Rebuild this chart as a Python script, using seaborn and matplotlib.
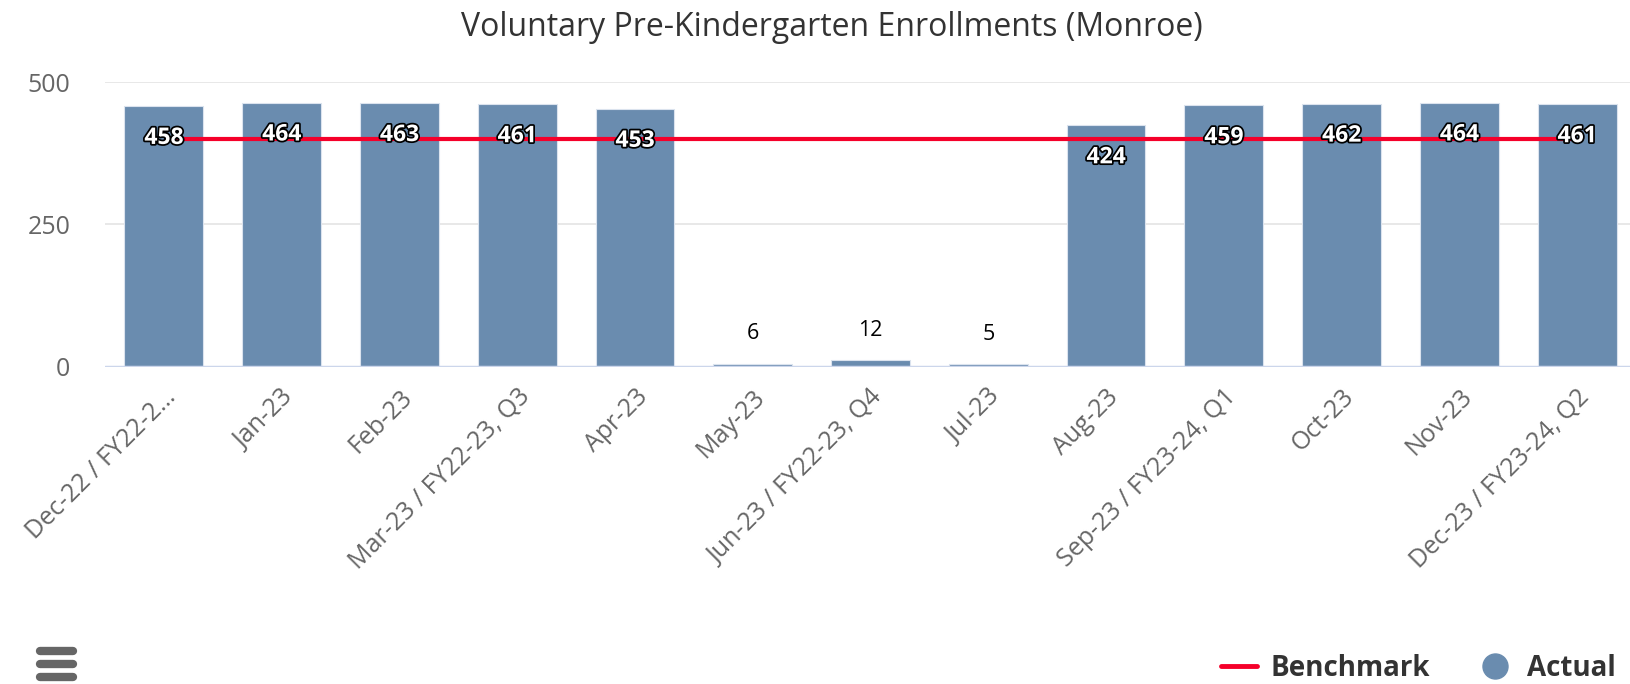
import numpy as np
import pandas as pd
import matplotlib
matplotlib.use("Agg")
import matplotlib.pyplot as plt
import matplotlib.patheffects as pe
from matplotlib.lines import Line2D
import seaborn as sns

# dane
miesiace = ['Dec-22 / FY22-2…', 'Jan-23', 'Feb-23', 'Mar-23 / FY22-23, Q3', 'Apr-23',
            'May-23', 'Jun-23 / FY22-23, Q4', 'Jul-23', 'Aug-23', 'Sep-23 / FY23-24, Q1',
            'Oct-23', 'Nov-23', 'Dec-23 / FY23-24, Q2']
actual = [458, 464, 463, 461, 453, 6, 12, 5, 424, 459, 462, 464, 461]
benchmark = [400] * 13
y_ticks = [0, 250, 500]

df = pd.DataFrame({'Miesiac': miesiace, 'Actual': actual, 'Benchmark': benchmark})

sns.set_theme(style="white")
plt.rcParams['font.family'] = ['Open Sans', 'DejaVu Sans']

W, H = 1631, 684
fig = plt.figure(figsize=(W / 100, H / 100), dpi=100)
ax = fig.add_axes([105 / W, (H - 367) / H, 1531 / W, 285 / H])

kolor_slupka = '#6a8caf'
ax = sns.barplot(data=df, x='Miesiac', y='Actual', color=kolor_slupka, width=0.67,
                 edgecolor='#dbe3ee', linewidth=0.8, saturation=1, ax=ax, zorder=2)
ax.plot(range(len(benchmark)), df['Benchmark'], color='#f5002a', linewidth=3, zorder=3,
        solid_capstyle='butt')

ax.set_xlim(-0.5, len(miesiace) - 0.5)
ax.set_ylim(0, 500)
ax.set_yticks(y_ticks)
ax.set_yticklabels([str(t) for t in y_ticks], color='#666666', fontsize=18)
ax.tick_params(axis='y', length=0, pad=25)
ax.tick_params(axis='x', length=0, pad=6)
for t in y_ticks[1:]:
    ax.axhline(t, color='#e6e6e6', linewidth=1.3, zorder=0)
ax.axhline(0, color='#ccd6eb', linewidth=2.5, zorder=4)
for s in ax.spines.values():
    s.set_visible(False)
ax.set_xlabel('')
ax.set_ylabel('')

ax.set_xticks(range(len(miesiace)))
ax.set_xticklabels(miesiace, rotation=45, ha='right', rotation_mode='anchor',
                   color='#666666', fontsize=18)
for lab in ax.get_xticklabels():
    lab.set_transform(lab.get_transform() + matplotlib.transforms.ScaledTranslation(0.0, -0.09, fig.dpi_scale_trans))

# etykiety wartości
for i, v in enumerate(actual):
    if v > 100:
        ax.annotate(str(v), (i, v), xytext=(0, -32), textcoords='offset pixels',
                    ha='center', va='center', fontsize=16.5, fontweight='bold', color='white',
                    zorder=5, path_effects=[pe.withStroke(linewidth=2.5, foreground='black')])
    else:
        ax.annotate(str(v), (i, v), xytext=(0, 30), textcoords='offset pixels',
                    ha='center', va='center', fontsize=15.5, color='black', zorder=5)

fig.suptitle('Voluntary Pre-Kindergarten Enrollments (Monroe)', x=832 / W, y=1 - 28 / H,
             va='center', fontsize=23, color='#333333')

# legenda
uchwyty = [Line2D([], [], color='#f5002a', linewidth=3.5),
           Line2D([], [], linestyle='none', marker='o', markersize=18, color=kolor_slupka)]
leg = fig.legend(uchwyty, ['Benchmark', 'Actual'], loc='center right',
                 bbox_to_anchor=(1641 / W, 1 - 668 / H), ncol=2, frameon=False,
                 prop={'weight': 'bold', 'size': 20}, labelcolor='#333333',
                 handlelength=1.3, columnspacing=1.7, handletextpad=0.5)

# ikona menu
for yy in [651, 664, 677]:
    fig.add_artist(Line2D([40 / W, 73 / W], [1 - yy / H, 1 - yy / H], color='#666666',
                          linewidth=6, solid_capstyle='round'))

fig.savefig('out.png', dpi=100)
